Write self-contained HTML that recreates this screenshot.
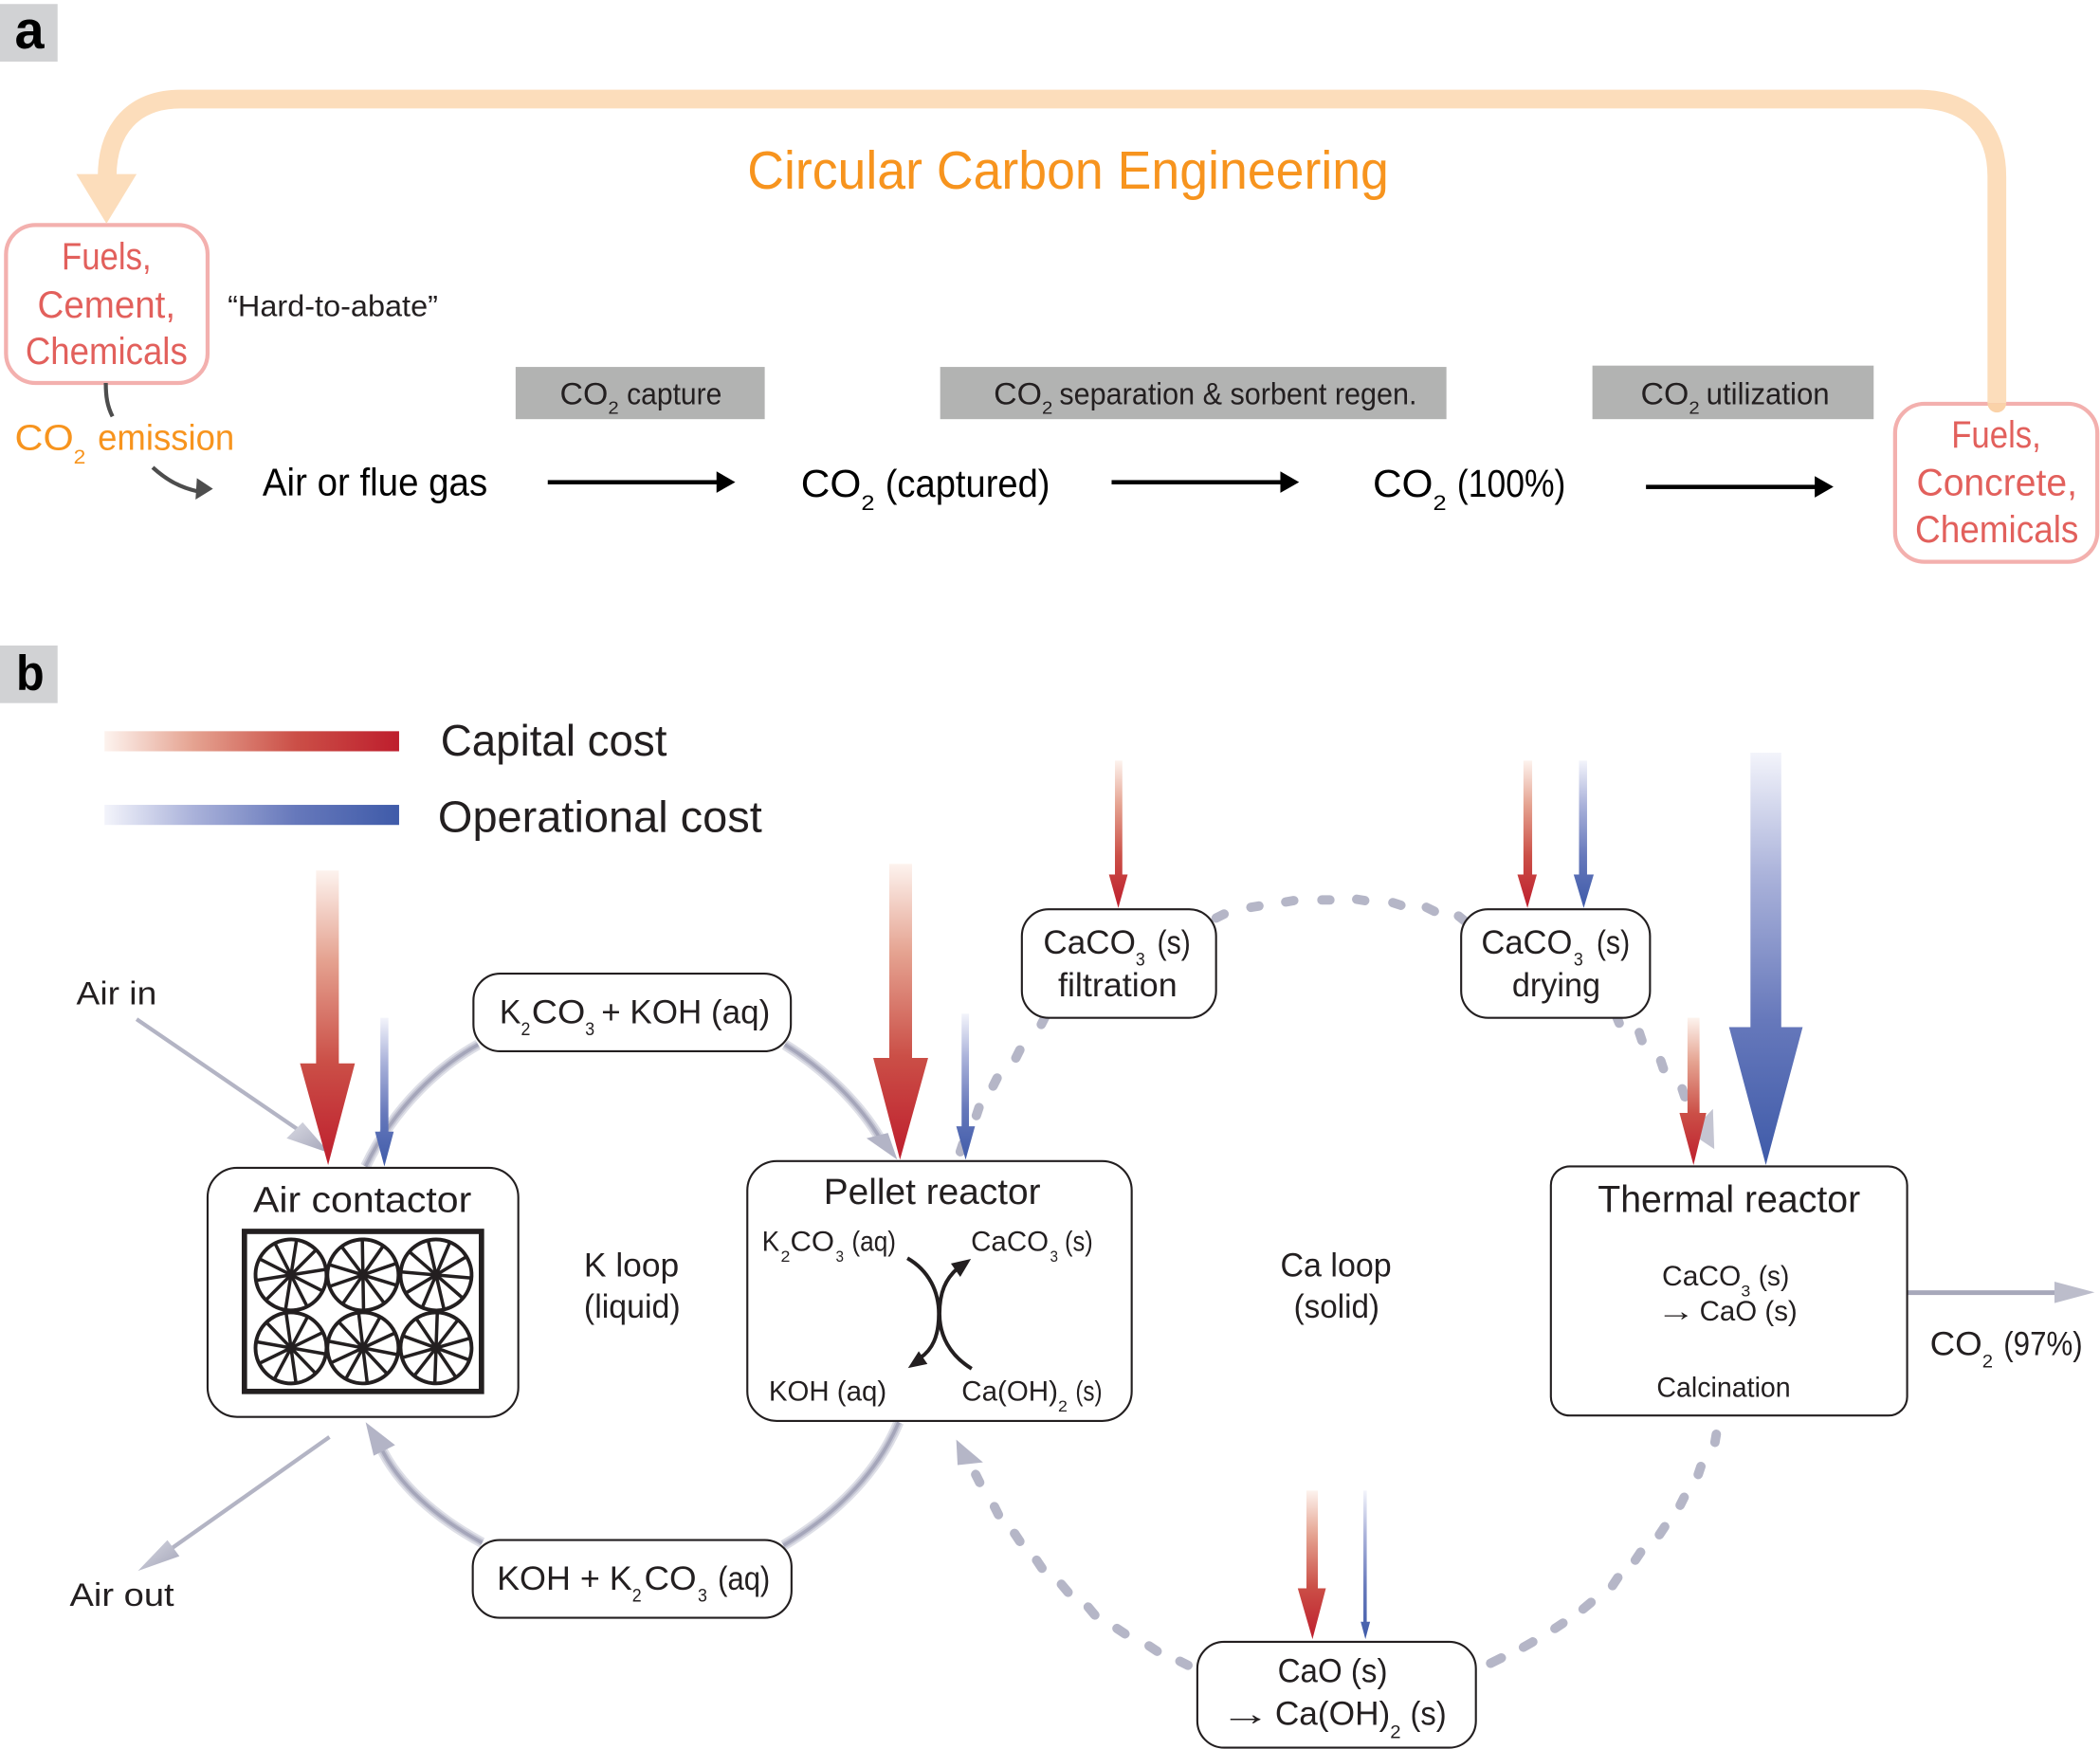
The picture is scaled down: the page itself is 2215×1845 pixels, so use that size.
<!DOCTYPE html>
<html><head><meta charset="utf-8"><style>
html,body{margin:0;padding:0;background:#fff}
svg{display:block}
text{font-family:"Liberation Sans","DejaVu Sans",sans-serif;fill:#231f20}
.o{fill:#f7941e}.p{fill:#e2605c}
</style></head><body>
<svg xmlns="http://www.w3.org/2000/svg" width="2215" height="1845" viewBox="0 0 1568 1306" preserveAspectRatio="none">
<defs>
<linearGradient id="r" x1="0" y1="0" x2="0" y2="1"><stop offset="0" stop-color="#fdf3ee"/><stop offset=".3" stop-color="#e5a391"/><stop offset=".65" stop-color="#cb4f47"/><stop offset="1" stop-color="#be1e2d"/></linearGradient>
<linearGradient id="b" x1="0" y1="0" x2="0" y2="1"><stop offset="0" stop-color="#f3f4fb"/><stop offset=".3" stop-color="#aab2da"/><stop offset=".65" stop-color="#6678bb"/><stop offset="1" stop-color="#3f5ba9"/></linearGradient>
<linearGradient id="rh" x1="0" y1="0" x2="1" y2="0"><stop offset="0" stop-color="#fdf3ee"/><stop offset=".3" stop-color="#e5a391"/><stop offset=".65" stop-color="#cb4f47"/><stop offset="1" stop-color="#be1e2d"/></linearGradient>
<linearGradient id="bh" x1="0" y1="0" x2="1" y2="0"><stop offset="0" stop-color="#f3f4fb"/><stop offset=".3" stop-color="#aab2da"/><stop offset=".65" stop-color="#6678bb"/><stop offset="1" stop-color="#3f5ba9"/></linearGradient>
<linearGradient id="gh" x1="0" y1="0" x2="1" y2="1"><stop offset="0" stop-color="#d9dae3"/><stop offset="1" stop-color="#a3a4b8"/></linearGradient>
<g id="w" fill="none" stroke="#231f20">
<circle r="26.5" stroke-width="2.800"/>
<g stroke-width="2.500"><path d="M-26 0H26"/><path d="M-26 0H26" transform="rotate(36)"/><path d="M-26 0H26" transform="rotate(72)"/><path d="M-26 0H26" transform="rotate(108)"/><path d="M-26 0H26" transform="rotate(144)"/></g>
</g>
</defs>

<!-- panel labels -->
<rect x="0" y="3" width="43" height="43" fill="#d1d2d4"/>
<text x="11" y="36" font-size="40" font-weight="700" textLength="22" lengthAdjust="spacingAndGlyphs" style="fill:#000">a</text>
<rect x="0" y="482" width="43" height="43" fill="#d1d2d4"/>
<text x="12" y="515" font-size="37" font-weight="700" textLength="21" lengthAdjust="spacingAndGlyphs" style="fill:#000">b</text>

<!-- Panel a -->
<rect x="4.500" y="168" width="150.500" height="118" rx="22" fill="#fff" stroke="#f3b0ae" stroke-width="3"/>
<rect x="1415" y="301.500" width="151" height="118" rx="22" fill="#fff" stroke="#f3b0ae" stroke-width="3"/>
<path d="M1491 301V132C1491 96 1470 74 1432 74H135C100 74 80 96 80 132" fill="none" stroke="#fcddbb" stroke-width="14"/>
<path d="M1484 301h14v0a7 7 0 0 1 -14 0z" fill="#fad2a8"/>
<polygon points="57,130 102,130 79.500,167" fill="#fcddbb"/>
<text x="558" y="141" font-size="40" class="o" textLength="479" lengthAdjust="spacingAndGlyphs">Circular Carbon Engineering</text>

<text x="46" y="201" font-size="28" class="p" textLength="67" lengthAdjust="spacingAndGlyphs">Fuels,</text>
<text x="28" y="237" font-size="28" class="p" textLength="103" lengthAdjust="spacingAndGlyphs">Cement,</text>
<text x="19" y="272" font-size="28" class="p" textLength="121" lengthAdjust="spacingAndGlyphs">Chemicals</text>
<text x="170" y="236" font-size="22" textLength="157" lengthAdjust="spacingAndGlyphs">“Hard-to-abate”</text>

<text x="1457" y="334" font-size="28" class="p" textLength="67" lengthAdjust="spacingAndGlyphs">Fuels,</text>
<text x="1431" y="370" font-size="28" class="p" textLength="120" lengthAdjust="spacingAndGlyphs">Concrete,</text>
<text x="1430" y="405" font-size="28" class="p" textLength="122" lengthAdjust="spacingAndGlyphs">Chemicals</text>

<rect x="385" y="274" width="186" height="39" fill="#b2b3b2"/>
<rect x="702" y="274" width="378" height="39" fill="#b2b3b2"/>
<rect x="1189" y="273" width="210" height="40" fill="#b2b3b2"/>
<text x="418" y="302" font-size="23" textLength="36" lengthAdjust="spacingAndGlyphs">CO</text>
<text x="454" y="309" font-size="13" textLength="8" lengthAdjust="spacingAndGlyphs">2</text>
<text x="468" y="302" font-size="23" textLength="71" lengthAdjust="spacingAndGlyphs">capture</text>
<text x="742" y="302" font-size="23" textLength="36" lengthAdjust="spacingAndGlyphs">CO</text>
<text x="778" y="309" font-size="13" textLength="8" lengthAdjust="spacingAndGlyphs">2</text>
<text x="791" y="302" font-size="23" textLength="267" lengthAdjust="spacingAndGlyphs">separation &amp; sorbent regen.</text>
<text x="1225" y="302" font-size="23" textLength="36" lengthAdjust="spacingAndGlyphs">CO</text>
<text x="1261" y="309" font-size="13" textLength="8" lengthAdjust="spacingAndGlyphs">2</text>
<text x="1274" y="302" font-size="23" textLength="92" lengthAdjust="spacingAndGlyphs">utilization</text>

<path d="M79 286C79 296 80 303 84 311" fill="none" stroke="#4d4d4d" stroke-width="3"/>
<path d="M114 349C124 358 134 364 148 367" fill="none" stroke="#4d4d4d" stroke-width="3"/>
<polygon points="147,357 159,365 146,373" fill="#4d4d4d"/>
<text x="11" y="336" font-size="27" class="o" textLength="44" lengthAdjust="spacingAndGlyphs">CO</text>
<text x="55" y="346" font-size="15" class="o" textLength="9" lengthAdjust="spacingAndGlyphs">2</text>
<text x="73" y="336" font-size="27" class="o" textLength="102" lengthAdjust="spacingAndGlyphs">emission</text>

<text x="196" y="370" font-size="29" style="fill:#000" textLength="168" lengthAdjust="spacingAndGlyphs">Air or flue gas</text>
<text x="598" y="371" font-size="29" style="fill:#000" textLength="45" lengthAdjust="spacingAndGlyphs">CO</text>
<text x="643" y="381" font-size="16" style="fill:#000" textLength="10" lengthAdjust="spacingAndGlyphs">2</text>
<text x="661" y="371" font-size="29" style="fill:#000" textLength="123" lengthAdjust="spacingAndGlyphs">(captured)</text>
<text x="1025" y="371" font-size="29" style="fill:#000" textLength="45" lengthAdjust="spacingAndGlyphs">CO</text>
<text x="1070" y="381" font-size="16" style="fill:#000" textLength="10" lengthAdjust="spacingAndGlyphs">2</text>
<text x="1088" y="371" font-size="29" style="fill:#000" textLength="81" lengthAdjust="spacingAndGlyphs">(100%)</text>
<g fill="#000">
<rect x="409" y="358.500" width="128" height="3.200"/><polygon points="535,352 549,360 535,368"/>
<rect x="830" y="358.500" width="128" height="3.200"/><polygon points="956,352 970,360 956,368"/>
<rect x="1229" y="362" width="128" height="3.200"/><polygon points="1355,355.500 1369,363.500 1355,371.500"/>
</g>

<!-- Legend -->
<rect x="78" y="546" width="220" height="15" fill="url(#rh)"/>
<rect x="78" y="601" width="220" height="15" fill="url(#bh)"/>
<text x="329" y="564" font-size="33" textLength="169" lengthAdjust="spacingAndGlyphs">Capital cost</text>
<text x="327" y="621" font-size="33" textLength="242" lengthAdjust="spacingAndGlyphs">Operational cost</text>

<!-- K loop arcs -->
<g fill="none" stroke-linecap="butt">
<g stroke="#dedfe7" stroke-width="8">
<path d="M357 780C330 795 295 825 273 871"/>
<path d="M586 780C618 800 643 826 657 850"/>
<path d="M671 1062C655 1100 625 1130 585 1154"/>
<path d="M360 1152C325 1133 297 1108 284 1080"/>
</g>
<g stroke="#c3c4d2" stroke-width="5">
<path d="M357 780C330 795 295 825 273 871"/>
<path d="M586 780C618 800 643 826 657 850"/>
<path d="M671 1062C655 1100 625 1130 585 1154"/>
<path d="M360 1152C325 1133 297 1108 284 1080"/>
</g>
<g stroke="#a5a6ba" stroke-width="2.500">
<path d="M357 780C330 795 295 825 273 871"/>
<path d="M586 780C618 800 643 826 657 850"/>
<path d="M671 1062C655 1100 625 1130 585 1154"/>
<path d="M360 1152C325 1133 297 1108 284 1080"/>
</g>
</g>
<polygon points="670,866 647,850 663,846" fill="#b3b4c6"/>
<polygon points="273,1062 279,1087 295,1079" fill="#b3b4c6"/>

<!-- Air in/out, CO2 out -->
<path d="M102 761L232 850" stroke="#b3b4c4" stroke-width="3" fill="none"/>
<polygon points="246,861 214,850 226,838" fill="url(#gh)"/>
<path d="M246 1073L127 1157" stroke="#b3b4c4" stroke-width="3" fill="none"/>
<polygon points="103,1173 125,1150 134,1162" fill="url(#gh)"/>
<rect x="1424" y="963.500" width="112" height="3.500" fill="#a7a8ba"/>
<polygon points="1534,957 1564,965 1534,973" fill="#bcbdcb"/>

<!-- Ca loop dashes -->
<path fill="none" stroke="#b5b6c7" stroke-width="7" stroke-linecap="round" d="
M780.500 759L777.500 765M761.500 784L758.500 790M744.500 805L741.500 811M731 827L729 833M719 854L717 860
M914 682.500L908 685.500M940 676.500L934 677.500M966 672.500L960 673.500M993 672L987 672M1019 672.500L1013 671.500M1046 676L1040 674M1071 680.500L1065 677.500M1094 688L1089 684
M1207 759L1209 764M1224 771L1226 777M1240 792L1242 798M1256 813L1258 819
M1281.500 1071L1280.500 1077M1270 1095L1268 1101M1257.500 1118L1254.500 1124M1243 1140L1239 1146M1225 1159L1221 1165M1208 1178L1204 1184M1188 1196.500L1182 1201.500M1167 1212L1161 1216M1144.500 1226L1137.500 1230M1121 1238L1113 1242
M887 1243.500L881 1240.500M864 1233L858 1229M840 1220L834 1216M817.500 1206L812.500 1200M797.500 1189L792.500 1183M778 1171L774 1165M761.500 1151L757.500 1145M745.500 1131L742.500 1125M731.500 1107L728.500 1101"/>
<polygon points="714,1075 715,1094 734,1092" fill="#b5b6c7"/>
<polygon points="1280,858 1279,828 1262,846" fill="#c4c5d2"/>

<!-- Boxes -->
<g fill="#fff" stroke="#231f20" stroke-width="1.500">
<rect x="155" y="872" width="232" height="186" rx="22"/>
<rect x="353.500" y="727" width="237" height="58" rx="20"/>
<rect x="353" y="1150" width="238" height="58" rx="20"/>
<rect x="558" y="867" width="287" height="194" rx="22"/>
<rect x="763" y="679" width="145" height="81" rx="20"/>
<rect x="1091" y="679" width="141" height="81" rx="20"/>
<rect x="1158" y="871" width="266" height="186" rx="14"/>
<rect x="894" y="1226" width="208" height="79" rx="20"/>
</g>

<!-- Air contactor panel -->
<rect x="182.500" y="919.500" width="177" height="119.500" fill="#fff" stroke="#231f20" stroke-width="4"/>
<use href="#w" transform="translate(217.300 952) rotate(-9)"/>
<use href="#w" transform="translate(271 952) rotate(-19)"/>
<use href="#w" transform="translate(325.600 952) rotate(-31)"/>
<use href="#w" transform="translate(217.300 1006.500) rotate(10)"/>
<use href="#w" transform="translate(271 1006.500) rotate(-25)"/>
<use href="#w" transform="translate(325.600 1006.500) rotate(-16)"/>

<!-- Cost arrows -->
<path fill="url(#r)" d="M236 650H253V794H265L245 870L224 794H236Z"/>
<path fill="url(#b)" d="M284 760H290V845H294L287 871L280 845H284Z"/>
<path fill="url(#r)" d="M664 645H681V790H693L672 866L652 790H664Z"/>
<path fill="url(#b)" d="M718 757H723.500V841H728L721 866L714 841H718Z"/>
<path fill="url(#r)" d="M832.500 568H838V653H842L835 678L828 653H832.500Z"/>
<path fill="url(#r)" d="M1137.500 568H1144V653H1147.500L1140.500 678L1133 653H1137.500Z"/>
<path fill="url(#b)" d="M1179 568H1185V653H1190L1182.500 678L1175 653H1179Z"/>
<path fill="url(#b)" d="M1307 562H1330V767H1346L1318.500 870L1291 767H1307Z"/>
<path fill="url(#r)" d="M1260 760H1269V831H1274L1264.500 870L1254 831H1260Z"/>
<path fill="url(#r)" d="M975.500 1113H984V1186H990L980 1224L969 1186H975.500Z"/>
<path fill="url(#b)" d="M1018 1113H1020.500V1211H1023L1019.500 1224L1016 1211H1018Z"/>

<!-- Labels b -->
<text x="57" y="750" font-size="24" textLength="60" lengthAdjust="spacingAndGlyphs">Air in</text>
<text x="52" y="1199" font-size="24" textLength="78" lengthAdjust="spacingAndGlyphs">Air out</text>
<text x="189" y="905" font-size="27" textLength="163" lengthAdjust="spacingAndGlyphs">Air contactor</text>

<text x="373" y="764" font-size="25" textLength="16" lengthAdjust="spacingAndGlyphs">K</text>
<text x="389" y="773" font-size="14" textLength="7" lengthAdjust="spacingAndGlyphs">2</text>
<text x="397" y="764" font-size="25" textLength="40" lengthAdjust="spacingAndGlyphs">CO</text>
<text x="437" y="773" font-size="14" textLength="7" lengthAdjust="spacingAndGlyphs">3</text>
<text x="449" y="764" font-size="25" textLength="126" lengthAdjust="spacingAndGlyphs">+ KOH (aq)</text>

<text x="371" y="1187" font-size="25" textLength="101" lengthAdjust="spacingAndGlyphs">KOH + K</text>
<text x="472" y="1196" font-size="14" textLength="7" lengthAdjust="spacingAndGlyphs">2</text>
<text x="481" y="1187" font-size="25" textLength="39" lengthAdjust="spacingAndGlyphs">CO</text>
<text x="521" y="1196" font-size="14" textLength="7" lengthAdjust="spacingAndGlyphs">3</text>
<text x="536" y="1187" font-size="25" textLength="39" lengthAdjust="spacingAndGlyphs">(aq)</text>

<text x="436" y="953" font-size="25" textLength="71" lengthAdjust="spacingAndGlyphs">K loop</text>
<text x="436" y="984" font-size="25" textLength="72" lengthAdjust="spacingAndGlyphs">(liquid)</text>
<text x="956" y="953" font-size="25" textLength="83" lengthAdjust="spacingAndGlyphs">Ca loop</text>
<text x="966" y="984" font-size="25" textLength="64" lengthAdjust="spacingAndGlyphs">(solid)</text>

<text x="615" y="899" font-size="27" textLength="162" lengthAdjust="spacingAndGlyphs">Pellet reactor</text>
<text x="569" y="934" font-size="21" textLength="13" lengthAdjust="spacingAndGlyphs">K</text>
<text x="583" y="942" font-size="12" textLength="7" lengthAdjust="spacingAndGlyphs">2</text>
<text x="590" y="934" font-size="21" textLength="33" lengthAdjust="spacingAndGlyphs">CO</text>
<text x="624" y="942" font-size="12" textLength="6" lengthAdjust="spacingAndGlyphs">3</text>
<text x="636" y="934" font-size="21" textLength="33" lengthAdjust="spacingAndGlyphs">(aq)</text>
<text x="725" y="934" font-size="21" textLength="58" lengthAdjust="spacingAndGlyphs">CaCO</text>
<text x="784" y="942" font-size="12" textLength="6" lengthAdjust="spacingAndGlyphs">3</text>
<text x="795" y="934" font-size="21" textLength="21" lengthAdjust="spacingAndGlyphs">(s)</text>
<text x="574" y="1046" font-size="21" textLength="88" lengthAdjust="spacingAndGlyphs">KOH (aq)</text>
<text x="718" y="1046" font-size="21" textLength="72" lengthAdjust="spacingAndGlyphs">Ca(OH)</text>
<text x="790" y="1054" font-size="12" textLength="7" lengthAdjust="spacingAndGlyphs">2</text>
<text x="803" y="1046" font-size="21" textLength="20" lengthAdjust="spacingAndGlyphs">(s)</text>

<g fill="none" stroke="#231f20" stroke-width="2.800">
<path d="M677.500 939.500C694 949 701 965 701 981C701 998 696 1008 687 1014"/>
<path d="M725.500 1022C709 1012 701.500 997 701.500 981C701.500 965 706 955 715 947"/>
</g>
<polygon points="678,1021.500 686,1009 692.500,1018.500" fill="#231f20"/>
<polygon points="725,940 710,943.500 717,953.500" fill="#231f20"/>

<text x="779" y="712" font-size="25" textLength="69" lengthAdjust="spacingAndGlyphs">CaCO</text>
<text x="848" y="721" font-size="14" textLength="7" lengthAdjust="spacingAndGlyphs">3</text>
<text x="864" y="712" font-size="25" textLength="25" lengthAdjust="spacingAndGlyphs">(s)</text>
<text x="790" y="744" font-size="25" textLength="89" lengthAdjust="spacingAndGlyphs">filtration</text>
<text x="1106" y="712" font-size="25" textLength="68" lengthAdjust="spacingAndGlyphs">CaCO</text>
<text x="1175" y="721" font-size="14" textLength="7" lengthAdjust="spacingAndGlyphs">3</text>
<text x="1192" y="712" font-size="25" textLength="25" lengthAdjust="spacingAndGlyphs">(s)</text>
<text x="1129" y="744" font-size="25" textLength="66" lengthAdjust="spacingAndGlyphs">drying</text>

<text x="1193" y="905" font-size="28" textLength="196" lengthAdjust="spacingAndGlyphs">Thermal reactor</text>
<text x="1241" y="960" font-size="21" textLength="59" lengthAdjust="spacingAndGlyphs">CaCO</text>
<text x="1300" y="968" font-size="12" textLength="7" lengthAdjust="spacingAndGlyphs">3</text>
<text x="1313" y="960" font-size="21" textLength="23" lengthAdjust="spacingAndGlyphs">(s)</text>
<text x="1237" y="986" font-size="21" textLength="29" lengthAdjust="spacingAndGlyphs">→</text>
<text x="1269" y="986" font-size="21" textLength="73" lengthAdjust="spacingAndGlyphs">CaO (s)</text>
<text x="1237" y="1043" font-size="21" textLength="100" lengthAdjust="spacingAndGlyphs">Calcination</text>

<text x="1441" y="1012" font-size="25" textLength="39" lengthAdjust="spacingAndGlyphs">CO</text>
<text x="1480" y="1021" font-size="14" textLength="8" lengthAdjust="spacingAndGlyphs">2</text>
<text x="1496" y="1012" font-size="25" textLength="59" lengthAdjust="spacingAndGlyphs">(97%)</text>

<text x="954" y="1256" font-size="25" textLength="82" lengthAdjust="spacingAndGlyphs">CaO (s)</text>
<text x="911" y="1288" font-size="25" textLength="38" lengthAdjust="spacingAndGlyphs">→</text>
<text x="952" y="1288" font-size="25" textLength="86" lengthAdjust="spacingAndGlyphs">Ca(OH)</text>
<text x="1038" y="1298" font-size="14" textLength="8" lengthAdjust="spacingAndGlyphs">2</text>
<text x="1053" y="1288" font-size="25" textLength="27" lengthAdjust="spacingAndGlyphs">(s)</text>
</svg>
</body></html>
